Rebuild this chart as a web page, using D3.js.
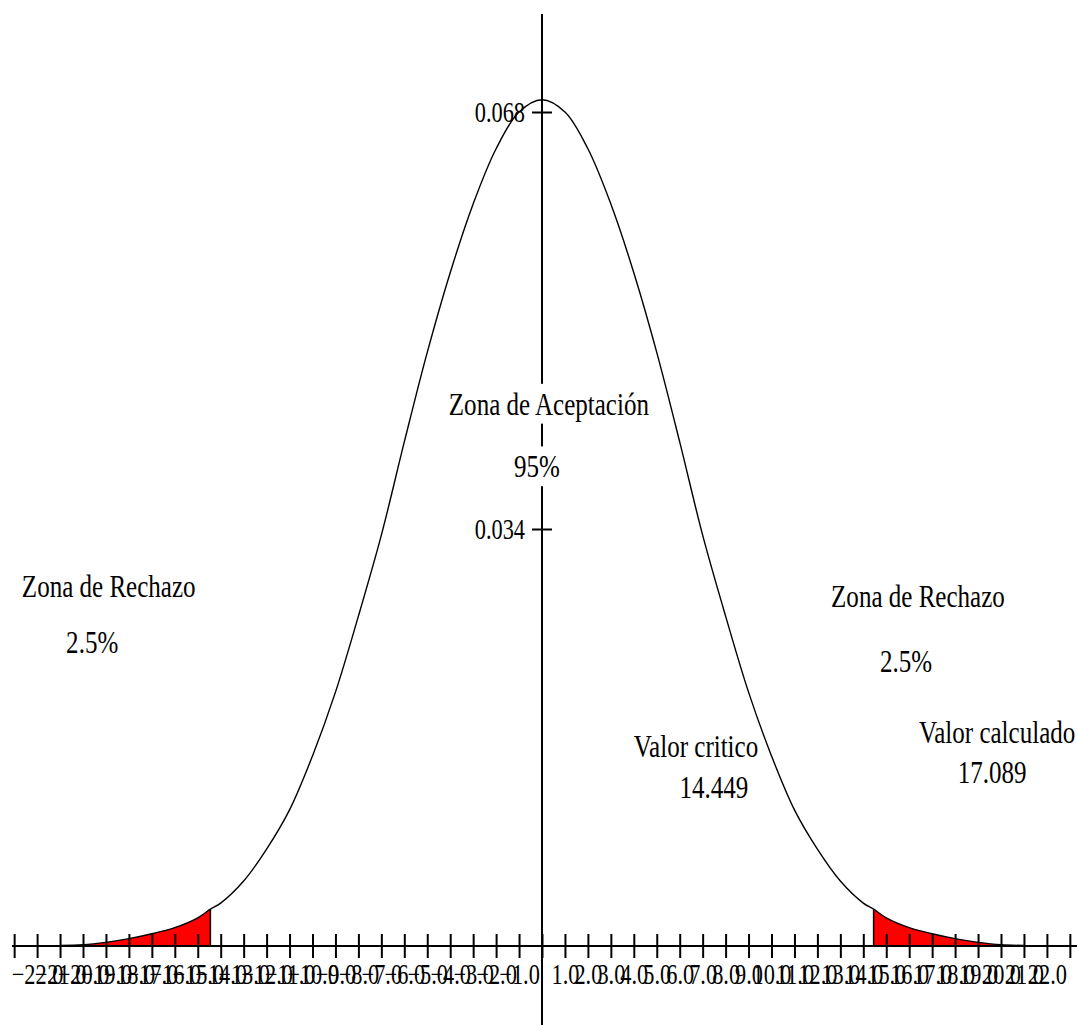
<!DOCTYPE html>
<html>
<head>
<meta charset="utf-8">
<script src="https://cdn.jsdelivr.net/npm/d3@7"></script>
<style>
  body { margin: 0; background: #fff; }
  svg { display: block; }
  svg text { font-family: "Liberation Serif", "Tinos", "Times New Roman", Times, "DejaVu Serif", serif; }
</style>
</head>
<body>
<div id="chart"></div>
<script>
const width = 1077, height = 1025;
const squeeze = 0.77;   // text in the picture is narrow, squash it horizontally

// curve (x, density)
const xVals = [-21, -20, -19, -18, -17, -16, -15, -14.449, -14, -13, -12, -11, -10, -9, -8, -7, -6, -5, -4, -3, -2, -1,
               0, 1, 2, 3, 4, 5, 6, 7, 8, 9, 10, 11, 12, 13, 14, 14.449, 15, 16, 17, 18, 19, 20, 21];
const density = [0.00005, 0.0001, 0.0003, 0.0006, 0.0010, 0.0015, 0.0023, 0.0030, 0.0035, 0.0053, 0.0079, 0.0111,
                 0.0155, 0.0207, 0.0269, 0.0335, 0.0411, 0.0484, 0.0549, 0.0605, 0.0650, 0.0680,
                 0.0690, 0.0680, 0.0650, 0.0605, 0.0549, 0.0484, 0.0411, 0.0335, 0.0269, 0.0207, 0.0155,
                 0.0111, 0.0079, 0.0053, 0.0035, 0.0030, 0.0023, 0.0015, 0.0010, 0.0006, 0.0003, 0.0001, 0.00005];
const critical = 14.449;

const xTicks = d3.range(-23, 24);
const yTicks = [0.034, 0.068];

// annotations, placed in data units
const notes = [
    {text: 'Zona de Aceptación', x: 0.3, y: 0.0433, bg: true},
    {text: '95%', x: -0.22, y: 0.0382, bg: true},
    {text: 'Zona de Rechazo', x: -18.88, y: 0.02845},
    {text: '2.5%', x: -19.6, y: 0.02385},
    {text: 'Zona de Rechazo', x: 16.38, y: 0.02767},
    {text: '2.5%', x: 15.86, y: 0.02234},
    {text: 'Valor critico', x: 6.71, y: 0.01541},
    {text: '14.449', x: 7.49, y: 0.01207},
    {text: 'Valor calculado', x: 19.83, y: 0.01655},
    {text: '17.089', x: 19.61, y: 0.01329}
];

const points = xVals.map((x, i) => ({x: x, y: density[i]}));

const x = d3.scaleLinear().domain([-23, 23]).range([542 - 23 * 22.95, 542 + 23 * 22.95]);
const y = d3.scaleLinear().domain([0, 0.068]).range([946, 112]);

const svg = d3.select('#chart').append('svg')
    .attr('width', width)
    .attr('height', height);
svg.append('rect')
    .attr('width', width)
    .attr('height', height)
    .attr('fill', '#fff');

const curve = d3.curveCatmullRom.alpha(0.5);

// red tails
const area = d3.area()
    .x(d => x(d.x))
    .y0(y(0))
    .y1(d => y(d.y))
    .curve(curve);
const tails = [points.filter(d => d.x <= -critical), points.filter(d => d.x >= critical)];
svg.append('g').selectAll('path')
    .data(tails)
    .join('path')
    .attr('d', area)
    .attr('fill', '#ff0000')
    .attr('stroke', 'none');

// black edges at the critical value
svg.append('g').selectAll('line')
    .data(points.filter(d => Math.abs(d.x) === critical))
    .join('line')
    .attr('x1', d => x(d.x))
    .attr('x2', d => x(d.x))
    .attr('y1', y(0))
    .attr('y2', d => y(d.y))
    .attr('stroke', '#000')
    .attr('stroke-width', 1.5);

// density curve
const line = d3.line()
    .x(d => x(d.x))
    .y(d => y(d.y))
    .curve(curve);
svg.append('path')
    .datum(points)
    .attr('d', line)
    .attr('fill', 'none')
    .attr('stroke', '#000')
    .attr('stroke-width', 1.4);

// horizontal axis
svg.append('line')
    .attr('x1', 12).attr('x2', width)
    .attr('y1', y(0)).attr('y2', y(0))
    .attr('stroke', '#000')
    .attr('stroke-width', 2.2);

const fmt = d3.format('.1f');
const xAxis = svg.append('g')
    .attr('transform', 'translate(0,' + y(0) + ')')
    .call(d3.axisBottom(x)
        .tickValues(xTicks)
        .tickFormat(d => (d === 0 || Math.abs(d) === 23) ? '' : fmt(d)));
xAxis.attr('font-family', null);
xAxis.select('.domain').remove();
xAxis.selectAll('.tick line')
    .attr('y1', -12)
    .attr('y2', 12)
    .attr('stroke', '#000')
    .attr('stroke-width', 2);
xAxis.selectAll('.tick text')
    .attr('y', 38)
    .attr('dy', null)
    .attr('fill', '#000')
    .attr('font-size', 29)
    .attr('transform', 'scale(' + squeeze + ',1)');

// vertical axis
svg.append('line')
    .attr('x1', x(0)).attr('x2', x(0))
    .attr('y1', 14).attr('y2', height)
    .attr('stroke', '#000')
    .attr('stroke-width', 2);

const yAxis = svg.append('g')
    .attr('transform', 'translate(' + x(0) + ',0)')
    .call(d3.axisLeft(y).tickValues(yTicks).tickFormat(d3.format('.3f')));
yAxis.attr('font-family', null);
yAxis.select('.domain').remove();
yAxis.selectAll('.tick line')
    .attr('x1', -10)
    .attr('x2', 10)
    .attr('stroke', '#000')
    .attr('stroke-width', 2);
yAxis.selectAll('.tick text')
    .attr('x', -17 / squeeze)
    .attr('dy', '0.33em')
    .attr('fill', '#000')
    .attr('font-size', 29)
    .attr('text-anchor', 'end')
    .attr('transform', 'scale(' + squeeze + ',1)');

// annotations
const noteG = svg.append('g').selectAll('g')
    .data(notes)
    .join('g')
    .attr('transform', d => 'translate(' + x(d.x) + ',' + y(d.y) + ') scale(' + squeeze + ',1)');
noteG.filter(d => d.bg).append('rect')
    .attr('fill', '#fff');
noteG.append('text')
    .attr('text-anchor', 'middle')
    .attr('font-size', 32.5)
    .attr('fill', '#000')
    .text(d => d.text);
noteG.filter(d => d.bg).each(function() {
    const g = d3.select(this);
    const b = g.select('text').node().getBBox();
    g.select('rect')
        .attr('x', b.x - 2)
        .attr('y', b.y - 2)
        .attr('width', b.width + 4)
        .attr('height', b.height + 4);
});
</script>
</body>
</html>
